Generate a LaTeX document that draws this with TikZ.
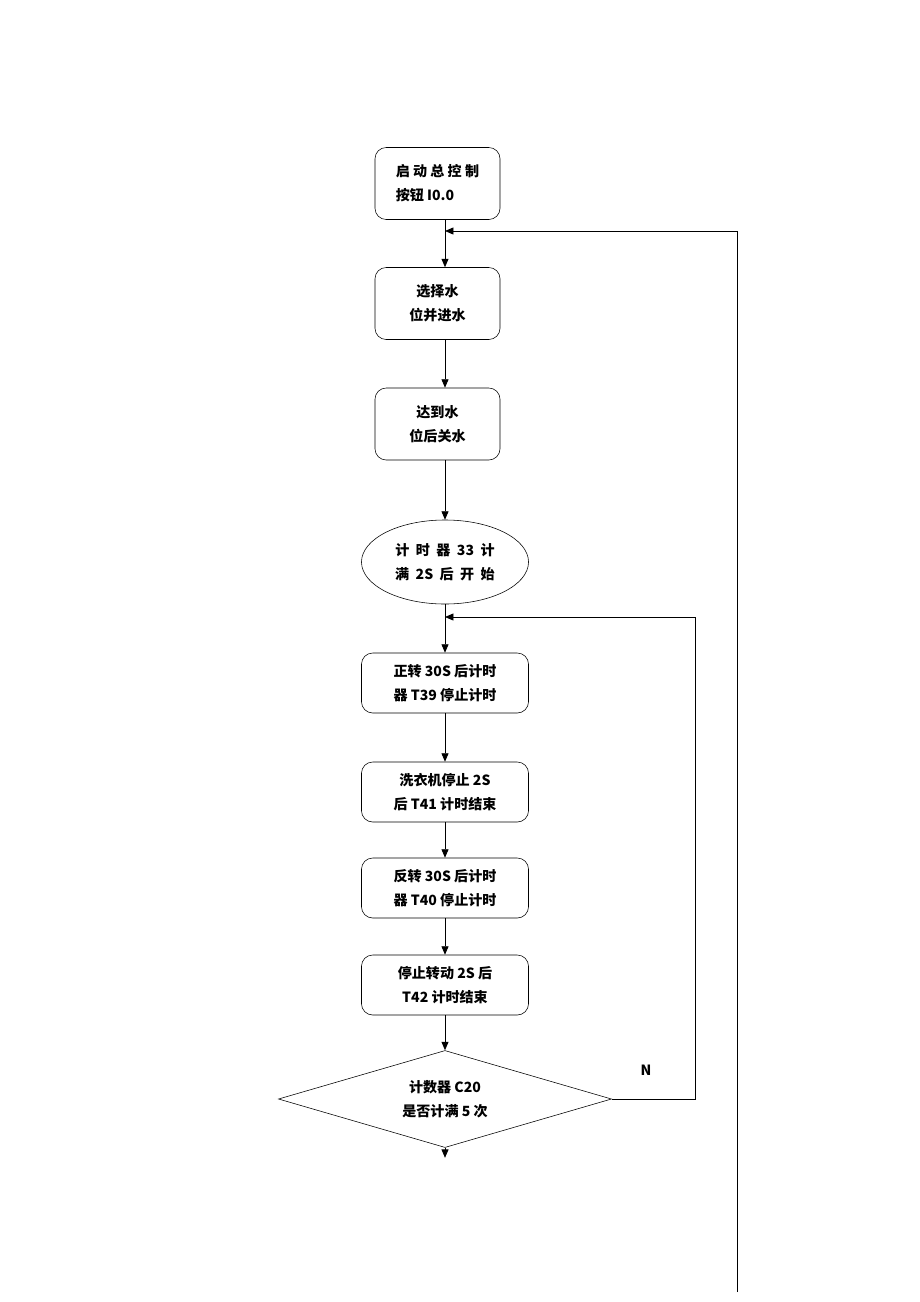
\documentclass[tikz,border=0pt]{standalone}
\usepackage{fontspec}
\setmainfont{Noto Sans CJK SC}
\usepackage{tikz}
\usetikzlibrary{shapes.geometric,arrows.meta}

\tikzset{
  stepbox/.style={draw, rounded corners=8pt, minimum width=3.125cm, minimum height=1.8cm, align=center},
  widebox/.style={draw, rounded corners=8pt, minimum width=4.175cm, minimum height=1.5cm, align=center},
  arr/.style={-{Triangle[length=6pt,width=5pt]}, semithick},
}

\begin{document}
\begin{tikzpicture}[x=0.025cm, y=-0.025cm, font=\fontsize{10}{17}\selectfont\bfseries]

  % page frame
  \useasboundingbox (0,0) rectangle (920,1302);

  % the vertical line the flow runs along
  \coordinate (spine) at (445,0);

  % start and water steps
  \node[stepbox, align=left] (start) at (437.5,183.5) {启 动 总 控 制\\按钮 I0.0};
  \node[stepbox] (fill) at (437.5,303.5) {选择水\\位并进水};
  \node[stepbox] (full) at (437.5,424) {达到水\\位后关水};

  % timer start
  \node[draw, ellipse, minimum width=4.175cm, minimum height=2.1cm, align=center] (wait) at (445,562) {计\ \ 时\ \ 器\ \ 33\ \ 计\\满\ \ 2S\ \ 后\ \ 开\ \ 始};

  % one wash cycle
  \node[widebox] (fwd) at (445,683) {正转 30S 后计时\\器 T39 停止计时};
  \node[widebox] (stop1) at (445,792) {洗衣机停止 2S\\后 T41 计时结束};
  \node[widebox] (rev) at (445,888) {反转 30S 后计时\\器 T40 停止计时};
  \node[widebox] (stop2) at (445,985) {停止转动 2S 后\\T42 计时结束};

  % counter check
  \node[draw, diamond, shape aspect=3.4, minimum width=8.325cm, minimum height=2.425cm, inner sep=0pt, align=center] (count) at (445,1099) {计数器 C20\\是否计满 5 次};
  \node (no) at (646,1070) {N};

  % loop return points
  \coordinate (back1) at (445,617);
  \coordinate (back2) at (445,231);
  \coordinate (loopR) at (695,1099);
  \coordinate (outerB) at (737,1292);

  % main flow
  \draw[semithick] (start.south -| spine) -- (back2);
  \draw[arr] (back2) -- (fill.north -| spine);
  \draw[arr] (fill.south -| spine) -- (full.north -| spine);
  \draw[arr] (full.south -| spine) -- (wait.north);
  \draw[semithick] (wait.south) -- (back1);
  \draw[arr] (back1) -- (fwd.north);
  \draw[arr] (fwd) -- (stop1);
  \draw[arr] (stop1) -- (rev);
  \draw[arr] (rev) -- (stop2);
  \draw[arr] (stop2) -- (count);
  \draw[arr] (count.south) -- ++(0,10);

  % N loops back to the cycle
  \draw[arr] (count.east) -- (loopR) |- (back1);

  % outer loop to the start
  \draw[arr] (outerB) |- (back2);

\end{tikzpicture}
\end{document}
